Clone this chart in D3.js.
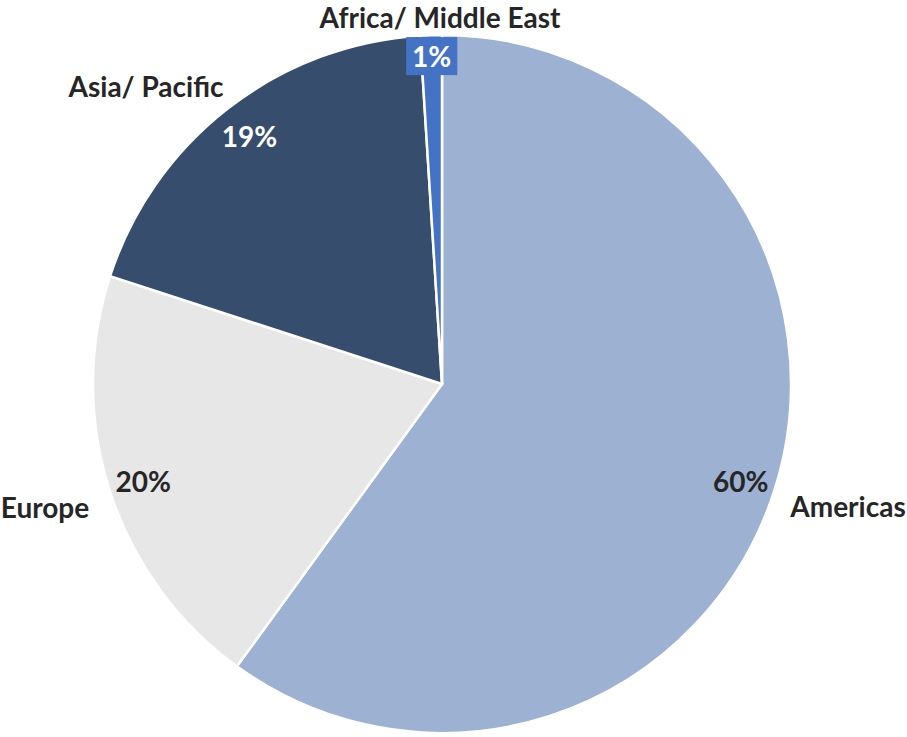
<!DOCTYPE html>
<html><head><meta charset="utf-8">
<script src="https://cdn.jsdelivr.net/npm/d3@7"></script>
<style>body{margin:0;background:#fff}svg{display:block}text{font-family:Lato,'Open Sans',sans-serif;font-weight:700}</style>
</head><body>
<script>
const categories = ["Americas", "Europe", "Asia/ Pacific", "Africa/ Middle East"];
const values = [60, 20, 19, 1];
const percentLabels = ["60%", "20%", "19%", "1%"];
const colors = ["#9DB1D3", "#E7E7E7", "#374D6E", "#4472C4"];
const pctColors = ["#262626", "#262626", "#ffffff", "#ffffff"];

const W = 907, H = 737, cx = 442, cy = 384, R = 349;
const svg = d3.select("body").append("svg").attr("width", W).attr("height", H);
const g = svg.append("g").attr("transform", `translate(${cx},${cy})`);
const data = categories.map((c, i) => ({cat: c, value: values[i], pct: percentLabels[i], color: colors[i], pc: pctColors[i]}));
const pie = d3.pie().value(d => d.value).sort(null);
const arcs = pie(data);
const arc = d3.arc().innerRadius(0).outerRadius(R);
g.selectAll("path").data(arcs).enter().append("path")
  .attr("d", arc).attr("fill", d => d.data.color)
  .attr("stroke", "#fff").attr("stroke-width", 2.5).attr("stroke-linejoin", "miter");

// percentage labels inside
const inFactor = [0.9, 0.9, 0.9, 0.94];
const fs = 28;
arcs.forEach((a, i) => {
  const m = (a.startAngle + a.endAngle) / 2;
  const r = R * inFactor[i];
  const x = r * Math.sin(m), y = -r * Math.cos(m);
  const grp = g.append("g");
  const t = grp.append("text").attr("x", x).attr("y", y).attr("text-anchor", "middle")
    .attr("dominant-baseline", "central").attr("font-size", fs).attr("fill", a.data.pc).text(a.data.pct);
  if (i === 3) {
    const bb = t.node().getBBox();
    grp.insert("rect", "text").attr("x", bb.x - 6).attr("y", bb.y - 2).attr("width", bb.width + 12)
      .attr("height", bb.height + 4).attr("fill", colors[3]);
  }
});

// category labels outside
const catPos = [[406, 122], [-397, 123], [-296, -298], [-2, -367]];
arcs.forEach((a, i) => {
  g.append("text").attr("x", catPos[i][0]).attr("y", catPos[i][1]).attr("text-anchor", "middle")
    .attr("dominant-baseline", "central").attr("font-size", fs).attr("fill", "#262626").text(a.data.cat);
});
</script>
</body></html>
